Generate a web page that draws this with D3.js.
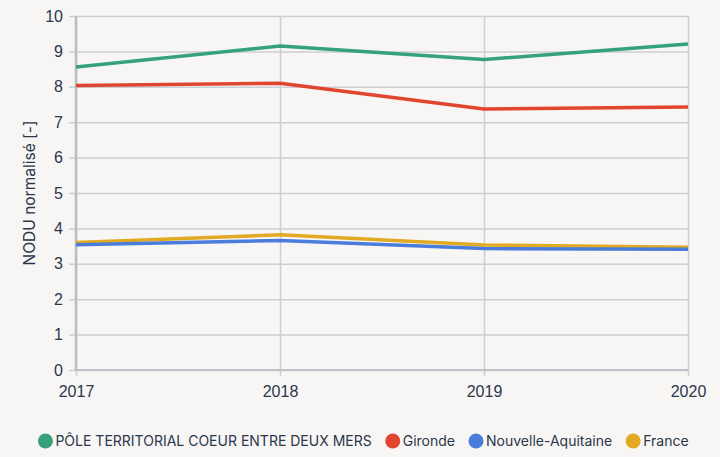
<!DOCTYPE html>
<html><head><meta charset="utf-8">
<script src="https://cdn.jsdelivr.net/npm/d3@7"></script>
<style>
html,body{margin:0;padding:0;background:#f7f6f4;}
svg{display:block;font-family:Inter,"Open Sans",sans-serif;}
</style></head><body>
<svg id="c" width="720" height="457"></svg>
<script>
const years = ["2017","2018","2019","2020"];
const seriesNames = ["PÔLE TERRITORIAL COEUR ENTRE DEUX MERS","Gironde","Nouvelle-Aquitaine","France"];
const pole = [8.56, 9.15, 8.77, 9.21];
const gironde = [8.04, 8.10, 7.37, 7.43];
const nouvelleAquitaine = [3.54, 3.66, 3.43, 3.41];
const france = [3.60, 3.82, 3.53, 3.47];
const colors = ["#35a27c","#e0462f","#4a7ddb","#e2a922"];
const yTicks = [0,1,2,3,4,5,6,7,8,9,10];

const svg = d3.select("#c");
const m = {l:76, r:688, t:16, b:370};
const x = d3.scalePoint().domain(years).range([m.l, m.r]);
const y = d3.scaleLinear().domain([0,10]).range([m.b, m.t]);
const textCol = "#2b374b";
const gridCol = "#cbced3";

// horizontal grid
svg.append("g").attr("transform",`translate(${m.l},0)`)
  .call(d3.axisLeft(y).tickValues(yTicks).tickSize(-(m.r-m.l)).tickSizeOuter(0).tickPadding(13))
  .call(g=>g.select(".domain").remove())
  .call(g=>g.selectAll(".tick line").attr("stroke",gridCol).attr("stroke-width",1.5).attr("x1",-7))
  .call(g=>g.selectAll(".tick text").attr("fill",textCol).attr("font-size",16).attr("x",-13));

// vertical grid
svg.append("g").attr("transform",`translate(0,${m.b})`)
  .call(d3.axisBottom(x).tickSize(-(m.b-m.t)).tickSizeOuter(0).tickPadding(13))
  .call(g=>g.select(".domain").remove())
  .call(g=>g.selectAll(".tick line").attr("stroke",gridCol).attr("stroke-width",1.5).attr("y1",6))
  .call(g=>g.selectAll(".tick text").attr("fill",textCol).attr("font-size",16).attr("dy","0.85em"));

// axis lines
svg.append("line").attr("x1",m.l).attr("x2",m.l).attr("y1",m.t).attr("y2",m.b).attr("stroke","#b9bdc4").attr("stroke-width",2.5);
svg.append("line").attr("x1",m.l).attr("x2",m.r).attr("y1",m.b).attr("y2",m.b).attr("stroke","#bfc3c9").attr("stroke-width",2);

// y title
svg.append("text").attr("transform",`translate(35,${(m.t+m.b)/2}) rotate(-90)`)
  .attr("text-anchor","middle").attr("fill",textCol).attr("font-size",15.5).text("NODU normalisé [-]");

const data = [pole, gironde, nouvelleAquitaine, france];
const line = d3.line().x((d,i)=>x(years[i])).y(d=>y(d));
[3,2,1,0].forEach(k=>{
  svg.append("path").datum(data[k]).attr("d",line).attr("fill","none")
    .attr("stroke",colors[k]).attr("stroke-width",3.5).attr("stroke-linejoin","round");
});

// legend
const lg = svg.append("g");
let cx = 0;
seriesNames.forEach((n,i)=>{
  const g = lg.append("g");
  g.append("circle").attr("cx",7).attr("cy",0).attr("r",7.5).attr("fill",colors[i]);
  const t = g.append("text").attr("x",17).attr("y",0).attr("dy","0.35em").attr("fill",textCol).attr("font-size",14).text(n);
  const w = 17 + t.node().getComputedTextLength();
  g.attr("transform",`translate(${cx},441)`);
  cx += w + 14;
});
const total = cx - 14;
lg.attr("transform",`translate(${(37+690-total)/2},0)`);
</script>
</body></html>
